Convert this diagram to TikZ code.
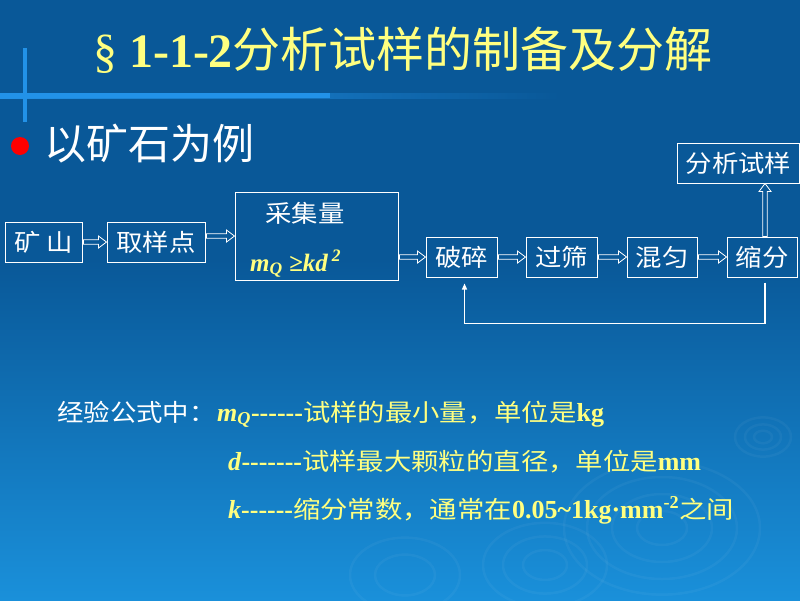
\documentclass[tikz,border=0pt]{standalone}
\usepackage{fontspec}
\setmainfont{Liberation Serif}
\newfontfamily\cjk{Noto Sans CJK SC}
\newfontfamily\cjkw[FakeStretch=1.1]{Noto Sans CJK SC}
\newfontfamily\cjkx[FakeStretch=1.14]{Noto Sans CJK SC}
\usetikzlibrary{calc,arrows.meta}
\definecolor{bgtop}{RGB}{9,88,152}
\definecolor{bgbot}{RGB}{26,144,218}
\definecolor{ylw}{RGB}{255,255,128}
\definecolor{lineblue}{RGB}{34,146,232}
\newcommand\fsz[1]{\fontsize{#1}{#1}\selectfont}
\newcommand\hyph{-{}-{}-{}-{}-{}-{}}
\newcommand\cj[1]{{\cjkx\fsz{24}#1}}
\tikzset{
  box/.style={draw=white, line width=1pt, minimum height=40pt, inner sep=0pt,
    text=white, font=\cjkw\fsz{24}},
  harr/.style={draw=white, line width=0.8pt, fill=bgtop},
  fb/.style={draw=white, line width=1.2pt, -{Triangle[width=5pt,length=6pt]}},
  ripple/.style={draw=white, opacity=0.04, line width=2.5pt},
  ytext/.style={text=ylw, anchor=base west, inner sep=0pt, font=\fsz{26}},
}
\newcommand\harrowH[2]{\draw[harr] let \p1=(#1.east), \p2=(#2.west) in
  (\x1+1pt,\y2-2.3pt) -- (\x2-8pt,\y2-2.3pt) -- (\x2-8pt,\y2-6pt) -- (\x2,\y2)
  -- (\x2-8pt,\y2+6pt) -- (\x2-8pt,\y2+2.3pt) -- (\x1+1pt,\y2+2.3pt) -- cycle;}
\begin{document}
\begin{tikzpicture}[x=1pt,y=-1pt]
\useasboundingbox (0,0) rectangle (800,600);
% background
\fill[bgtop] (0,0) rectangle (800,260);
\shade[top color=bgtop, bottom color=bgbot] (0,259) rectangle (800,600);
% ripples
\foreach \r in {9,18,28} \draw[ripple] (763,437) ellipse ({\r pt} and {0.7*\r pt});
\foreach \r in {25,50,75,98} \draw[ripple] (662,528) ellipse ({\r pt} and {0.68*\r pt});
\foreach \r in {22,42,62} \draw[ripple] (545,565) ellipse ({\r pt} and {0.68*\r pt});
\foreach \r in {30,55} \draw[ripple] (405,575) ellipse ({\r pt} and {0.68*\r pt});
% decorative lines
\shade[left color=lineblue, right color=bgtop] (0,93) rectangle (560,98);
\fill[lineblue] (0,93) rectangle (330,98);
\fill[lineblue] (23,48) rectangle (27,122);
% title
\node[text=ylw, font=\fsz{48}, inner sep=0pt] (title) at (403,50)
  {§ \textbf{1-1-2}{\cjk 分析试样的制备及分解}};
% bullet
\fill[red] (20,146) circle (9pt);
\node[text=white, anchor=west, inner sep=0pt, font=\cjk\fsz{42}] (sub) at (44,144)
  {以矿石为例};
% boxes
\node[box, minimum width=77pt] (ks) at (43.5,242) {矿\hspace{6pt}山};
\node[box, minimum width=98pt] (qy) at (156,242) {取样点};
\node[box, minimum width=163pt, minimum height=88pt] (cj) at (316.5,236) {};
\node[text=white, font=\cjkw\fsz{24}, inner sep=0pt] (cjt) at (305,213) {采集量};
\node[text=ylw, font=\fsz{25}\bfseries\itshape, inner sep=0pt, anchor=base west] (cjf) at (250,271)
  {m\textsubscript{Q} ≥kd\,\textsuperscript{2}};
\node[box, minimum width=71pt] (ps) at (461.5,257) {破碎};
\node[box, minimum width=71pt] (gs) at (561.5,257) {过筛};
\node[box, minimum width=70pt] (hy) at (662,257) {混匀};
\node[box, minimum width=70pt] (sf) at (762,257) {缩分};
\node[box, minimum width=122pt] (fx) at (738.5,163) {分析试样};
% hollow arrows
\harrowH{ks}{qy}
\harrowH{qy}{cj}
\harrowH{cj}{ps}
\harrowH{ps}{gs}
\harrowH{gs}{hy}
\harrowH{hy}{sf}
\draw[harr] let \p1=([xshift=3pt]sf.north), \p2=(fx.south) in
  (\x1-2.3pt,\y1) -- (\x1-2.3pt,\y2-8pt) -- (\x1-6pt,\y2-8pt) -- (\x1,\y2)
  -- (\x1+6pt,\y2-8pt) -- (\x1+2.3pt,\y2-8pt) -- (\x1+2.3pt,\y1) -- cycle;
% feedback
\draw[fb] ([xshift=3pt,yshift=-5pt]sf.south) -- ++(0,41) -| ([xshift=3pt,yshift=-6pt]ps.south);
% bottom text
\node[text=white, anchor=base west, inner sep=0pt, font=\cjkw\fsz{24}] (l1a) at (57,421) {经验公式中：};
\node[ytext] (l1b) at (217,421)
  {\textbf{\textit{m}\textsubscript{\textit{Q}}\hyph}\cj{试样的最小量，单位是}\textbf{kg}};
\node[ytext] (l2) at (228,470)
  {\textbf{\textit{d}\hyph-{}}\cj{试样最大颗粒的直径，单位是}\textbf{mm}};
\node[ytext] (l3) at (228,518)
  {\textbf{\textit{k}\hyph}\cj{缩分常数，通常在}\textbf{0.05\textasciitilde 1kg·mm\textsuperscript{-2}}\cj{之间}};
\end{tikzpicture}
\end{document}
